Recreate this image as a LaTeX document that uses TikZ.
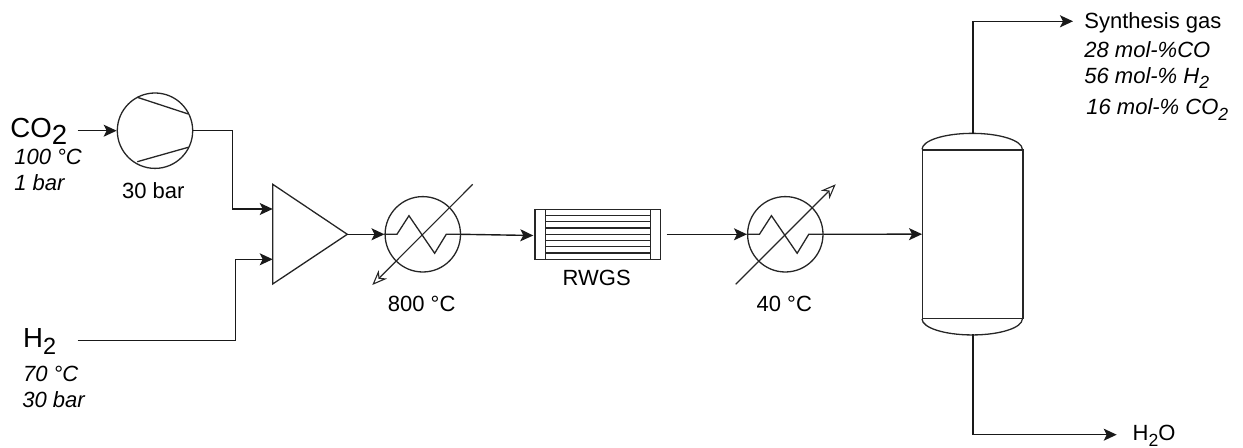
\documentclass[tikz,border=0pt]{standalone}
\usepackage{fontspec}
\usepackage{graphicx}
\setmainfont{Liberation Sans}
\usetikzlibrary{arrows.meta}
\newcommand{\subnum}[2][0.8]{\raisebox{-0.25em}{\scalebox{#1}{#2}}}
\newcommand{\coil}[1]{\draw[vessel] (#1.west) -- ++(12.5,0) -- ++(12,-18.6) -- ++(25.7,37.6) -- ++(11.6,-19) -- (#1.east);}
\tikzset{
    vessel/.style={line width=0.65pt, draw=black!85},
    pipe/.style={line width=0.7pt, draw=black!90, -{Stealth[length=6.5pt,width=6pt,inset=1.5pt]}},
    utility/.style={line width=0.55pt, draw=black!85, -{Stealth[open,length=7.5pt,width=6pt,inset=2.4pt]}},
    ring/.style={vessel, circle, minimum size=37.7pt, inner sep=0pt},
    txt/.style={inner sep=0pt, anchor=base west, font=\fontsize{11}{13}\selectfont},
    ctxt/.style={txt, anchor=base},
    bigtxt/.style={txt, font=\fontsize{13.8}{16}\selectfont}
}
\begin{document}
\begin{tikzpicture}[x=0.5pt,y=-0.5pt]  % one unit is one pixel of the reference
    \useasboundingbox (0,0) rectangle (1243,448);

    % units on the main line
    \node[ring] (comp) at (155,130.7) {};
    \node[ring] (heata) at (422.8,234.3) {};
    \node[ring] (heatb) at (785.3,234.3) {};
    \node[vessel, draw, minimum width=62.85pt, minimum height=25pt, inner sep=0pt] (reac) at (597.85,234.3) {};
    \node[vessel, draw, minimum width=50.15pt, minimum height=84.15pt, inner sep=0pt] (drum) at (972.85,234.15) {};

    % compressor blades
    \draw[vessel] (137.3,97.3) -- (188.3,114);
    \draw[vessel] (137.3,161.7) -- (188.3,147.3);

    % mixer
    \coordinate (mixtop) at (272.7,184.3);
    \coordinate (mixbot) at (272.7,284);
    \coordinate (mixtip) at (347.3,234.3);
    \coordinate (mixa) at (272.7,209);
    \coordinate (mixb) at (272.7,259.3);
    \draw[vessel] (mixtop) -- (mixtip) -- (mixbot) -- cycle;

    % heat exchanger coils
    \coil{heata}
    \coil{heatb}

    % utility arrows through the exchangers
    \coordinate (utilaup) at (472.7,184.3);
    \coordinate (utilalow) at (372.3,285);
    \coordinate (utilbup) at (835.7,184.3);
    \coordinate (utilblow) at (735.7,284.3);
    \draw[utility] (utilaup) -- (utilalow);
    \draw[utility] (utilblow) -- (utilbup);

    % reactor tubes
    \draw[vessel] (545.7,209.3) -- (545.7,259.3);
    \draw[vessel] (650.3,209.3) -- (650.3,259.3);
    \foreach \k in {1,...,7} {
        \draw[vessel] (545.7,{209.3+\k*6.25}) -- (650.3,{209.3+\k*6.25});
    }

    % drum heads
    \coordinate (drumtop) at (973,134.3);
    \coordinate (drumbot) at (973,334.3);
    \draw[vessel] (drum.north west) arc[start angle=-180, end angle=0, x radius=50.15, y radius=16];
    \draw[vessel] (drum.south west) arc[start angle=180, end angle=0, x radius=50.15, y radius=16];

    % streams
    \coordinate (costart) at (77.7,130.7);
    \coordinate (hstart) at (77.7,340.3);
    \coordinate (elbowa) at (232.3,209);
    \coordinate (elbowb) at (235.3,259.3);
    \coordinate (reacin) at (533.3,235.5);
    \coordinate (reacout) at (666.7,234.3);
    \coordinate (gasend) at (1073,21.3);
    \coordinate (waterend) at (1116.7,434.7);
    \draw[pipe] (costart) -- (comp.west);
    \draw[pipe] (comp.east) -| (elbowa) -- (mixa);
    \draw[pipe] (hstart) -| (elbowb) -- (mixb);
    \draw[pipe] (mixtip) -- (heata.west);
    \draw[pipe] (heata.east) -- (reacin);
    \draw[pipe] (reacout) -- (heatb.west);
    \draw[pipe] (heatb.east) -- (drum.west);
    \draw[pipe] (drumtop) |- (gasend);
    \draw[pipe] (drumbot) |- (waterend);

    % labels
    \node[bigtxt] (colab) at (10,138) {CO\subnum[1]{2}};
    \node[txt] (cotemp) at (14,165) {\itshape 100 °C};
    \node[txt] (copres) at (14,191) {\itshape 1 bar};
    \node[ctxt] (complab) at (153.3,199) {30 bar};
    \node[bigtxt] (hlab) at (22.7,347.7) {H\subnum[0.85]{2}};
    \node[txt] (htemp) at (22.7,381.7) {\itshape 70 °C};
    \node[txt] (hpres) at (22,408) {\itshape 30 bar};
    \node[ctxt] (heatalab) at (421.7,311.7) {800 °C};
    \node[ctxt] (reaclab) at (596.7,286) {RWGS};
    \node[ctxt] (heatblab) at (784.3,311.7) {40 °C};
    \node[txt] (gaslab) at (1084,28.3) {Synthesis gas};
    \node[txt] (gasa) at (1084,57.7) {\itshape 28 mol-\%CO};
    \node[txt] (gasb) at (1084,83.3) {\itshape 56 mol-\% H\subnum{2}};
    \node[txt] (gasc) at (1086,115) {\itshape 16 mol-\% CO\subnum{2}};
    \node[txt] (waterlab) at (1132.3,440.7) {H\subnum{2}O};

\end{tikzpicture}
\end{document}
